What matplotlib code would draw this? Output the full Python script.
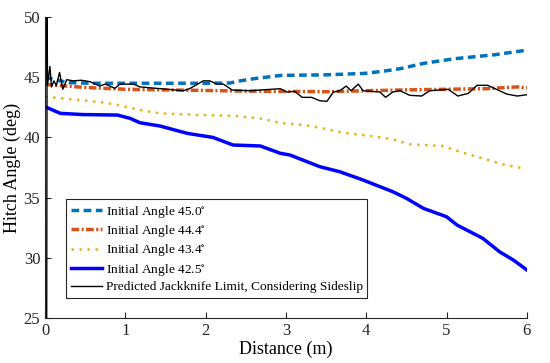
import numpy as np
import matplotlib
matplotlib.use('Agg')
import matplotlib.pyplot as plt

plt.rcParams.update({
    'font.family': 'Liberation Serif',
    'mathtext.fontset': 'stix',
    'font.size': 12,
    'xtick.direction': 'in', 'ytick.direction': 'in',
    'axes.spines.top': False, 'axes.spines.right': False,
})

# Initial angle 45.0 (dashed)
x_a = [0.0, 0.15, 0.3, 0.6, 1.0, 1.5, 2.0, 2.3, 2.43, 2.6, 2.93, 3.49, 3.98, 4.2, 4.42, 4.71, 5.1, 5.6, 6.0]
y_a = [45.0, 44.75, 44.55, 44.5, 44.5, 44.5, 44.5, 44.52, 44.7, 44.88, 45.15, 45.2, 45.32, 45.49, 45.71, 46.15, 46.54, 46.87, 47.25]

# Initial angle 44.4 (dash-dot)
x_b = [0.0, 0.2, 0.5, 1.0, 1.5, 2.0, 2.5, 3.0, 3.5, 4.0, 4.5, 5.0, 5.5, 5.88, 6.0]
y_b = [44.4, 44.3, 44.15, 44.0, 43.95, 43.9, 43.85, 43.82, 43.8, 43.88, 43.95, 44.0, 44.05, 44.2, 44.1]

# Initial angle 43.4 (dotted)
x_c = [0.0, 0.44, 0.68, 0.87, 1.18, 1.43, 1.93, 2.34, 2.68, 2.93, 3.22, 3.42, 3.70, 4.05, 4.33, 4.54, 4.95, 5.2, 5.45, 5.70, 5.95]
y_c = [43.38, 43.1, 42.94, 42.75, 42.28, 42.0, 41.86, 41.8, 41.58, 41.2, 41.03, 40.81, 40.4, 40.12, 39.84, 39.43, 39.29, 38.73, 38.26, 37.77, 37.43]

# Initial angle 42.5 (solid)
x_d = [0.0, 0.19, 0.47, 0.9, 1.06, 1.18, 1.43, 1.77, 2.09, 2.34, 2.68, 2.93, 3.05, 3.42, 3.67, 3.96, 4.33, 4.5, 4.71, 5.0, 5.13, 5.45, 5.66, 5.83, 6.0]
y_d = [42.55, 42.0, 41.9, 41.86, 41.58, 41.22, 40.95, 40.34, 40.0, 39.37, 39.29, 38.68, 38.54, 37.57, 37.15, 36.46, 35.49, 34.94, 34.11, 33.41, 32.72, 31.62, 30.5, 29.82, 28.99]

# Predicted jackknife limit
x_j = [0.02, 0.025, 0.03, 0.06, 0.08, 0.11, 0.14, 0.18, 0.22, 0.27, 0.35, 0.45, 0.56, 0.68, 0.75, 0.87, 0.93,
       1.10, 1.18, 1.52, 1.72, 1.80, 1.97, 2.05, 2.14, 2.22, 2.33, 2.55, 2.93, 3.01, 3.11, 3.2, 3.32, 3.42,
       3.51, 3.59, 3.67, 3.75, 3.81, 3.90, 3.96, 4.17, 4.24, 4.33, 4.42, 4.54, 4.69, 4.79, 5.02, 5.14, 5.27,
       5.38, 5.51, 5.75, 5.88, 6.0]
y_j = [25.0, 50.0, 44.4, 45.9, 44.2, 44.7, 44.3, 45.4, 44.0, 44.8, 44.7, 44.75, 44.63, 44.27, 44.43, 44.08, 44.43,
       44.43, 44.2, 44.0, 43.88, 44.05, 44.7, 44.7, 44.43, 44.43, 43.94, 43.88, 44.05, 43.77, 43.83, 43.33, 43.33, 43.05,
       43.0, 43.77, 43.88, 44.27, 43.88, 44.43, 43.88, 43.77, 43.33, 43.77, 43.88, 43.5, 43.44, 43.88, 44.0, 43.44, 43.66,
       44.33, 44.33, 43.6, 43.44, 43.55]

fig = plt.figure(figsize=(5.5, 3.63), dpi=100)
ax = fig.add_axes([0.082, 0.124, 0.876, 0.829])

ax.plot(x_a, y_a, color='#0072BD', lw=2.5, ls=(0, (2.2, 1.3)), label='Initial Angle 45.0$^{\\circ}$')
ax.plot(x_b, y_b, color='#D95319', lw=2.5, ls=(0, (2.2, 0.7, 0.6, 0.7)), label='Initial Angle 44.4$^{\\circ}$')
ax.plot(x_c, y_c, color='#EDB120', lw=1.8, ls=(0, (1, 2.2)), label='Initial Angle 43.4$^{\\circ}$')
ax.plot(x_d, y_d, color='#0000FF', lw=2.5, label='Initial Angle 42.5$^{\\circ}$')
ax.plot(x_j, y_j, color='black', lw=1.0, label='Predicted Jackknife Limit, Considering Sideslip')

ax.set_xlim(0, 6)
ax.set_ylim(25, 50)
ax.set_xticks(range(0, 7))
ax.set_yticks(range(25, 51, 5))
ax.tick_params(length=4, width=0.8, colors='#262626', labelsize=12)
for s in ['left', 'bottom']:
    ax.spines[s].set_color('#262626')
ax.set_xlabel('Distance (m)', fontsize=13, labelpad=1)
ax.set_ylabel('Hitch Angle (deg)', fontsize=13, labelpad=2)

leg = ax.legend(loc='lower left', bbox_to_anchor=(0.044, 0.066), fontsize=9.6,
                fancybox=False, framealpha=1, edgecolor='#262626', handlelength=2.3,
                handletextpad=0.3, borderpad=0.35, labelspacing=0.25, borderaxespad=0)
leg.get_frame().set_linewidth(0.8)

fig.savefig('out.png', dpi=100)
